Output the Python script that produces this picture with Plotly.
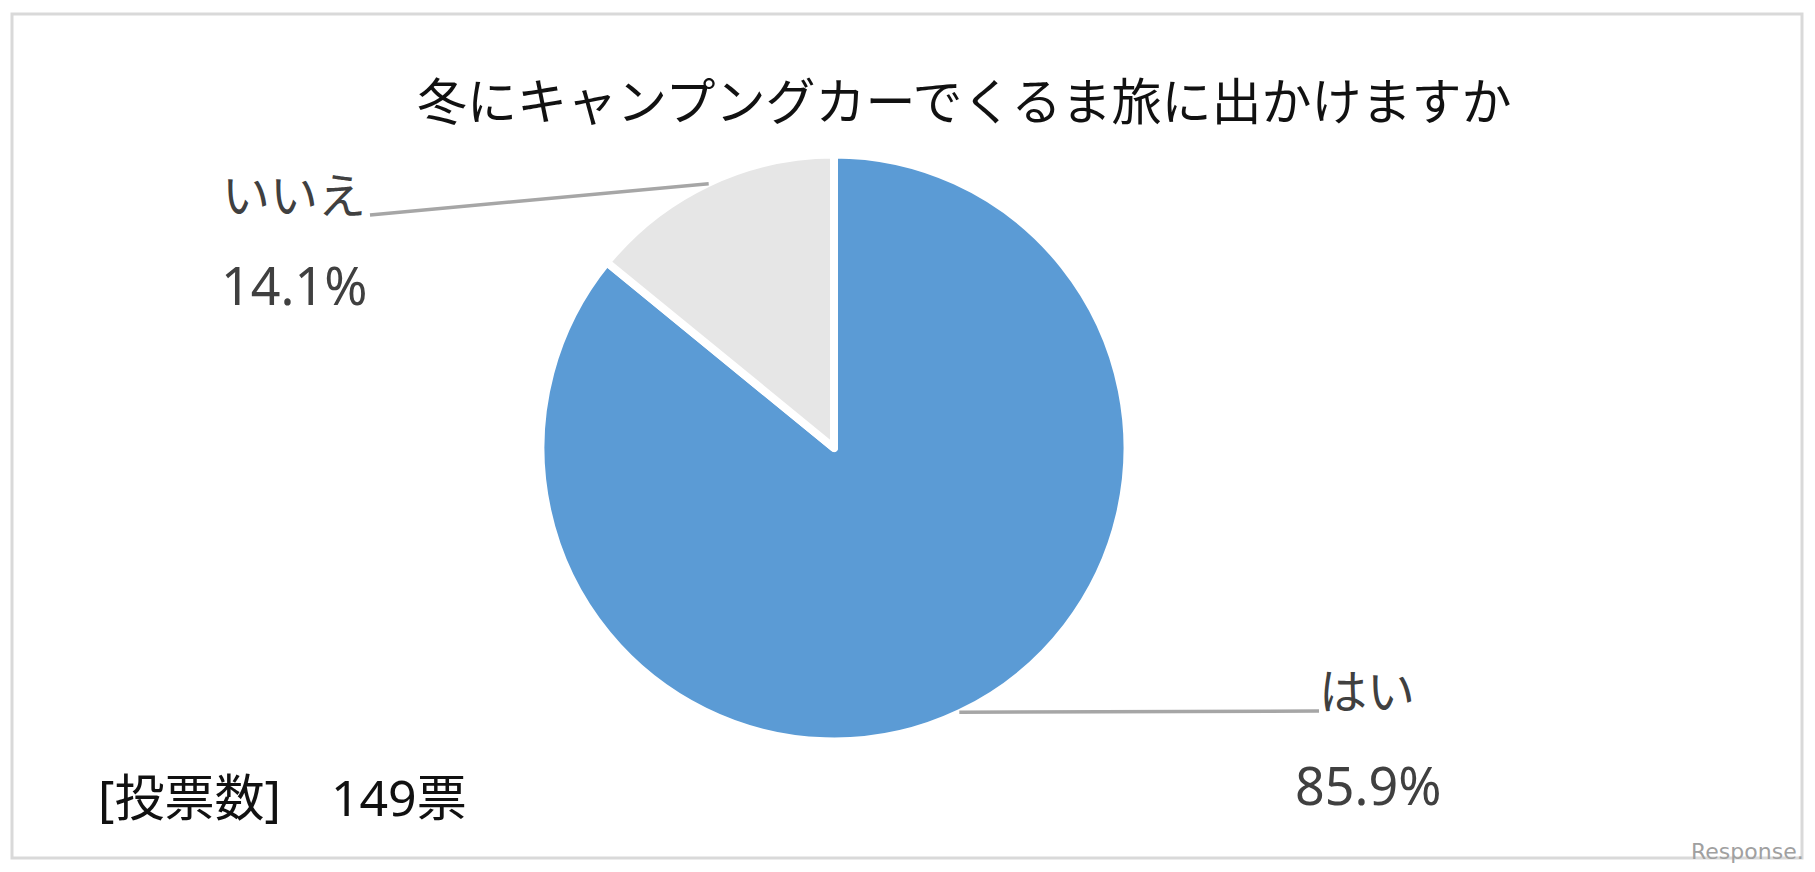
import math
import plotly.graph_objects as go

# ---- data ----
title_text = "冬にキャンプングカーでくるま旅に出かけますか"
categories = ["はい", "いいえ"]
votes = [128, 21]
slice_colors = ["#5B9BD5", "#E6E6E6"]
vote_note = "[投票数]　149票"
watermark = "Response."

# page is 1815x872; the html body has an 8px margin, so the figure is drawn 8px in
PAGE_OFF = 8
W, H = 1815 - 2 * PAGE_OFF, 872 - 2 * PAGE_OFF
total = sum(votes)
pcts = [v / total * 100 for v in votes]

# pie geometry (page pixels)
cx, cy = 834, 448
r_vis = 289.5
border_w = 8
r_dom = r_vis + border_w / 2


def px(x):
    return (x - PAGE_OFF) / W


def py(y):
    return 1 - (y - PAGE_OFF) / H


fig = go.Figure()
fig.add_trace(go.Pie(
    labels=categories,
    values=votes,
    sort=False,
    direction="clockwise",
    rotation=0,
    textinfo="none",
    hoverinfo="label+percent",
    marker=dict(colors=slice_colors, line=dict(color="white", width=border_w)),
    domain=dict(x=[px(cx - r_dom), px(cx + r_dom)], y=[py(cy + r_dom), py(cy - r_dom)]),
    showlegend=False,
))


# leader line end points at the mid-angle of each slice (clockwise from top)
def edge_point(idx, extra=3):
    start = sum(pcts[:idx]) / 100 * 360
    mid = start + pcts[idx] / 100 * 360 / 2
    a = math.radians(mid)
    return cx + (r_vis + extra) * math.sin(a), cy - (r_vis + extra) * math.cos(a)


label_font = dict(family="Noto Sans, Noto Sans CJK JP", size=48, color="#404040")
pct_font = dict(family="Noto Sans, Noto Sans CJK JP", size=52, color="#404040")
leader = dict(color="#A6A6A6", width=3.5)
shapes = [
    dict(type="rect", xref="paper", yref="paper", x0=px(12), x1=px(1802), y0=py(858), y1=py(14),
         line=dict(color="#D9D9D9", width=3), layer="below"),
]

# はい (index 0)
ex, ey = edge_point(0)
shapes.append(dict(type="line", xref="paper", yref="paper", x0=px(ex), y0=py(ey), x1=px(1319), y1=py(711),
                   line=leader))
# いいえ (index 1)
ex, ey = edge_point(1)
shapes.append(dict(type="line", xref="paper", yref="paper", x0=px(ex), y0=py(ey), x1=px(370), y1=py(215),
                   line=leader))


def ann(text, x, y, font, xanchor="left"):
    return dict(text=text, x=px(x), y=py(y), xref="paper", yref="paper", showarrow=False,
                xanchor=xanchor, yanchor="middle", font=font)


annotations = [
    ann(title_text, 964, 98, dict(family="Noto Sans CJK JP", size=50, color="#111111"), "center"),
    ann(categories[1], 220, 194, label_font),
    ann(f"{pcts[1]:.1f}%", 219, 284, pct_font),
    ann(categories[0], 1317, 690, label_font),
    ann(f"{pcts[0]:.1f}%", 1293, 784, pct_font),
    ann(vote_note, 96, 797, dict(family="Noto Sans, Noto Sans CJK JP", size=50, color="#111111")),
    ann(watermark, 1806, 851, dict(family="DejaVu Sans", size=22, color="#a0a0a0"), "right"),
]

fig.update_layout(
    width=W, height=H,
    margin=dict(l=0, r=0, t=0, b=0),
    paper_bgcolor="white", plot_bgcolor="white",
    shapes=shapes, annotations=annotations,
)

fig.write_html("out.html")
